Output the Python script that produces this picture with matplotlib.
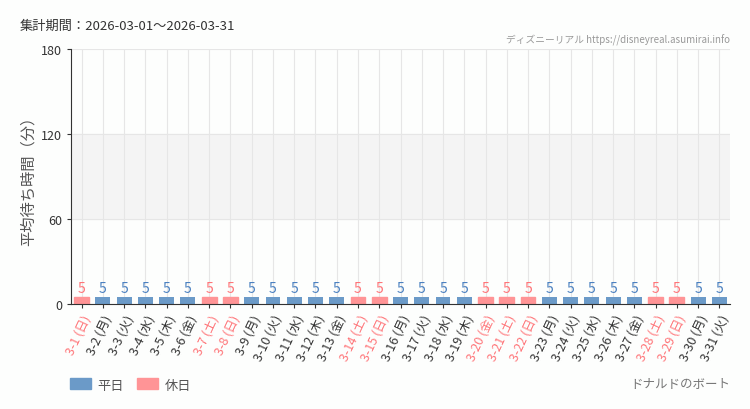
import matplotlib
matplotlib.use("Agg")
import matplotlib.pyplot as plt
from matplotlib.patches import Patch

plt.rcParams['font.family'] = ['Noto Sans CJK JP', 'DejaVu Sans']

days = list(range(1, 32))
weekdays = ["日", "月", "火", "水", "木", "金", "土"]
holidays = [1, 7, 8, 14, 15, 20, 21, 22, 28, 29]
wait_minutes = [5] * 31

blue = "#6b9ac8"
pink = "#ff9496"
blue_txt = "#4a80c0"
pink_txt = "#ff7478"

labels = [f"3-{d} ({weekdays[(d - 1) % 7]})" for d in days]
is_holiday = [d in holidays for d in days]

fig = plt.figure(figsize=(7.5, 4.1), dpi=100)
fig.patch.set_facecolor("#fdfefd")
ax = fig.add_axes([71 / 750, 105 / 410, 659 / 750, 255 / 410])
ax.set_facecolor("#fdfefd")

x = list(range(len(days)))
colors = [pink if h else blue for h in is_holiday]
ax.axhspan(60, 120, color="#f4f4f4", zorder=0)
for xi in x:
    ax.axvline(xi, color="#e6e6e6", lw=0.8, zorder=1)
for yv in (60, 120, 180):
    ax.axhline(yv, color="#e6e6e6", lw=0.8, zorder=1)

bars = ax.bar(x, wait_minutes, width=0.7, color=colors, zorder=2)
for b, h in zip(bars, is_holiday):
    if h:
        b.set_edgecolor(pink)
        b.set_linewidth(1.0)

for xi, v, h in zip(x, wait_minutes, is_holiday):
    ax.text(xi, v + 1.5, str(v), ha="center", va="bottom", fontsize=10,
            color=pink_txt if h else blue_txt, zorder=3)

ax.set_xlim(-0.5, len(days) - 0.5)
ax.set_ylim(0, 180)
ax.set_yticks([0, 60, 120, 180])
ax.set_yticklabels(["0", "60", "120", "180"], fontsize=9, color="#333333")
ax.set_xticks(x)
ax.set_xticklabels(labels, rotation=65, ha="right", rotation_mode="anchor", fontsize=9)
for lab, h in zip(ax.get_xticklabels(), is_holiday):
    lab.set_color(pink_txt if h else "#333333")
ax.tick_params(axis="both", length=3, color="#333333", width=0.8)
ax.tick_params(axis="x", pad=3)

for s in ("top", "right"):
    ax.spines[s].set_visible(False)
ax.spines["left"].set_color("#333333")
ax.spines["bottom"].set_color("#333333")

ax.set_ylabel("平均待ち時間（分）", fontsize=11, color="#555555", labelpad=3)

fig.text(20 / 750, 1 - 26 / 410, "集計期間：2026-03-01～2026-03-31", fontsize=9.5,
         color="#333333", va="center", ha="left")
fig.text(730 / 750, 1 - 40 / 410, "ディズニーリアル https://disneyreal.asumirai.info",
         fontsize=7, color="#999999", va="center", ha="right")
fig.text(730 / 750, 1 - 385 / 410, "ドナルドのボート", fontsize=9,
         color="#777777", va="center", ha="right")

handles = [Patch(color=blue, label="平日"), Patch(color=pink, label="休日")]
fig.legend(handles=handles, loc="center left", bbox_to_anchor=(58 / 750, 1 - 386 / 410),
           ncol=2, frameon=False, fontsize=9.5, handlelength=1.6, handleheight=0.9,
           handletextpad=0.5, columnspacing=1.0, labelcolor="#555555")

fig.savefig("out.png", dpi=100, facecolor=fig.get_facecolor())
